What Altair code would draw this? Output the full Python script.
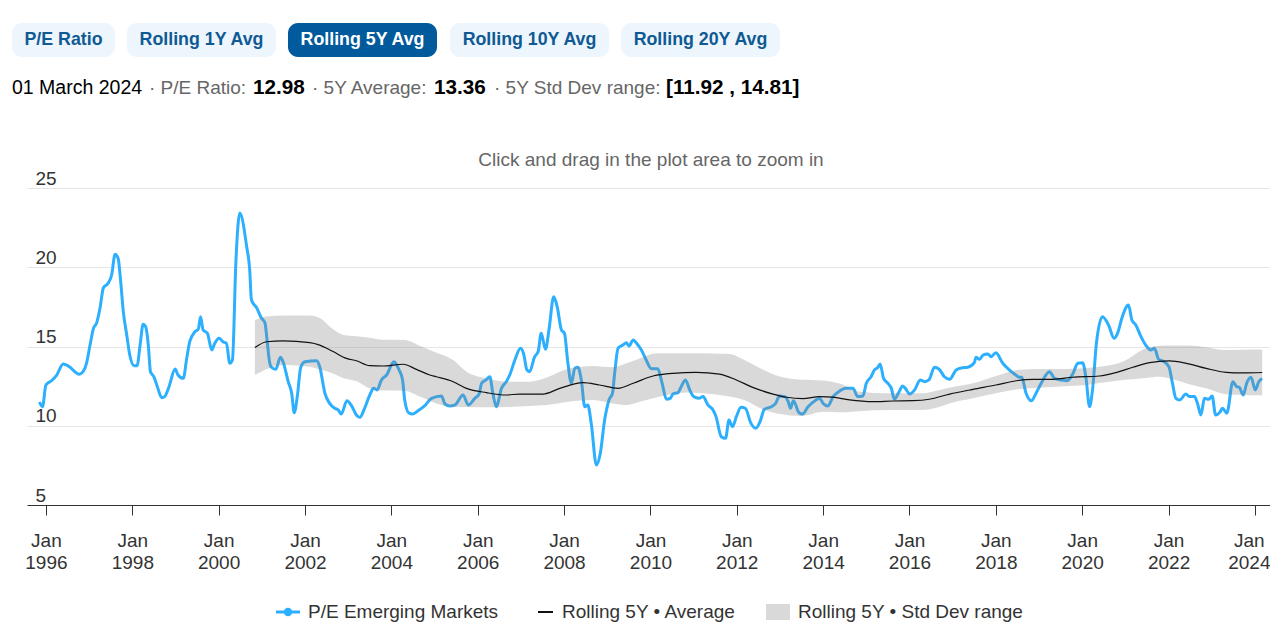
import altair as alt
import pandas as pd
import numpy as np

# ---------------- data ----------------
pe_years = [
    1995.85, 1995.92, 1996.0, 1996.13, 1996.25, 1996.4, 1996.56, 1996.67, 1996.77, 1996.86,
    1996.94, 1997.02, 1997.1, 1997.17, 1997.25, 1997.33, 1997.44, 1997.52, 1997.6, 1997.67,
    1997.73, 1997.79, 1997.87, 1997.94, 1998.04, 1998.11, 1998.18, 1998.25, 1998.31, 1998.37,
    1998.42, 1998.5, 1998.58, 1998.68, 1998.75, 1998.85, 1998.99, 1999.06, 1999.18, 1999.26,
    1999.33, 1999.45, 1999.53, 1999.58, 1999.64, 1999.74, 1999.84, 1999.91, 2000.01, 2000.1,
    2000.18, 2000.26, 2000.32, 2000.4, 2000.49, 2000.65, 2000.72, 2000.76, 2000.88, 2000.99,
    2001.07, 2001.12, 2001.17, 2001.22, 2001.32, 2001.43, 2001.49, 2001.61, 2001.69, 2001.75,
    2001.82, 2001.9, 2002.0, 2002.27, 2002.34, 2002.46, 2002.57, 2002.69, 2002.77, 2002.84,
    2002.97, 2003.08, 2003.19, 2003.27, 2003.38, 2003.5, 2003.59, 2003.67, 2003.77, 2003.89,
    2004.06, 2004.18, 2004.26, 2004.31, 2004.41, 2004.5, 2004.62, 2004.77, 2004.93, 2005.16,
    2005.24, 2005.35, 2005.47, 2005.66, 2005.78, 2005.93, 2006.03, 2006.09, 2006.19, 2006.28,
    2006.35, 2006.43, 2006.55, 2006.66, 2006.74, 2006.86, 2006.99, 2007.06, 2007.14, 2007.2,
    2007.32, 2007.4, 2007.47, 2007.57, 2007.65, 2007.76, 2007.84, 2007.94, 2008.01, 2008.09,
    2008.17, 2008.25, 2008.32, 2008.4, 2008.48, 2008.55, 2008.63, 2008.75, 2008.84, 2008.94,
    2009.04, 2009.12, 2009.17, 2009.25, 2009.36, 2009.44, 2009.5, 2009.6, 2009.69, 2009.79,
    2009.9, 2010.02, 2010.17, 2010.27, 2010.37, 2010.46, 2010.52, 2010.64, 2010.71, 2010.81,
    2010.91, 2011.0, 2011.12, 2011.22, 2011.33, 2011.45, 2011.52, 2011.64, 2011.74, 2011.82,
    2011.9, 2011.99, 2012.1, 2012.2, 2012.33, 2012.44, 2012.54, 2012.64, 2012.8, 2012.9,
    2012.99, 2013.11, 2013.19, 2013.24, 2013.31, 2013.44, 2013.52, 2013.65, 2013.81, 2013.92,
    2014.0, 2014.11, 2014.23, 2014.36, 2014.53, 2014.69, 2014.8, 2014.92, 2015.0, 2015.11,
    2015.19, 2015.27, 2015.32, 2015.4, 2015.5, 2015.58, 2015.65, 2015.75, 2015.84, 2015.92,
    2016.0, 2016.12, 2016.25, 2016.35, 2016.45, 2016.58, 2016.69, 2016.81, 2016.93, 2017.08,
    2017.23, 2017.35, 2017.5, 2017.54, 2017.62, 2017.7, 2017.81, 2017.89, 2018.0, 2018.16,
    2018.31, 2018.43, 2018.55, 2018.6, 2018.7, 2018.82, 2018.93, 2019.07, 2019.24, 2019.36,
    2019.51, 2019.65, 2019.78, 2019.9, 2020.01, 2020.09, 2020.17, 2020.24, 2020.33, 2020.47,
    2020.61, 2020.74, 2020.82, 2020.93, 2021.07, 2021.15, 2021.24, 2021.36, 2021.47, 2021.59,
    2021.67, 2021.77, 2021.9, 2022.01, 2022.09, 2022.17, 2022.26, 2022.4, 2022.48, 2022.6,
    2022.67, 2022.75, 2022.83, 2022.93, 2023.01, 2023.09, 2023.18, 2023.25, 2023.35, 2023.49,
    2023.58, 2023.64, 2023.73, 2023.81, 2023.91, 2024.01, 2024.09, 2024.17,
]
pe_values = [
    11.5, 11.2, 12.57, 12.84, 13.2, 13.9, 13.69, 13.41, 13.25, 13.41,
    13.94, 15.09, 16.15, 16.46, 17.41, 18.71, 18.99, 19.51, 20.82, 20.56,
    19.09, 17.2, 15.73, 14.46, 13.79, 13.79, 15.09, 16.4, 16.25, 15.09,
    13.41, 13.09, 12.46, 11.77, 11.84, 12.46, 13.58, 13.2, 12.99, 14.25,
    15.3, 15.93, 16.1, 16.88, 16.04, 15.83, 14.78, 15.2, 15.52, 15.3,
    15.2, 13.94, 14.15, 20.35, 23.42, 21.3, 19.83, 17.93, 17.45, 16.8,
    16.5, 15.41, 14.15, 13.69, 13.56, 14.32, 14.04, 12.78, 12.05, 10.82,
    11.84, 13.69, 14.04, 14.1, 13.72, 12.05, 11.41, 11.1, 10.99, 10.74,
    11.58, 11.25, 10.68, 10.53, 11.1, 11.94, 12.36, 12.26, 12.89, 13.2,
    14.04, 13.52, 12.89, 11.63, 10.79, 10.74, 10.95, 11.25, 11.73, 11.88,
    11.37, 11.25, 11.31, 11.94, 11.31, 11.73, 12.0, 12.68, 12.89, 13.09,
    12.05, 11.2, 12.36, 12.78, 13.2, 14.15, 14.89, 14.57, 13.52, 13.41,
    14.36, 14.68, 15.83, 14.82, 16.04, 18.14, 17.51, 16.04, 15.83, 13.94,
    12.68, 13.62, 13.69, 12.89, 11.2, 11.31, 10.15, 7.52, 8.26, 10.36,
    11.63, 12.05, 13.31, 14.89, 15.09, 15.24, 15.03, 15.41, 15.16, 14.78,
    14.15, 13.6, 13.6, 12.68, 11.67, 11.73, 12.0, 12.09, 12.46, 12.89,
    12.26, 11.84, 11.73, 11.84, 11.31, 10.99, 10.57, 9.31, 9.21, 10.36,
    9.94, 10.57, 11.16, 11.1, 10.15, 9.84, 10.26, 11.04, 11.2, 11.41,
    11.88, 11.84, 11.52, 11.1, 11.58, 10.82, 10.74, 11.2, 11.58, 11.73,
    11.41, 11.25, 11.84, 12.15, 12.36, 12.36, 11.84, 11.88, 12.68, 13.09,
    13.52, 13.69, 13.9, 12.99, 12.68, 12.36, 11.67, 12.09, 12.51, 12.3,
    12.0, 12.26, 12.89, 12.78, 12.89, 13.69, 13.56, 13.09, 12.93, 13.52,
    13.66, 13.69, 13.98, 14.32, 14.19, 14.46, 14.53, 14.36, 14.61, 13.94,
    13.52, 13.26, 13.06, 13.06, 12.05, 11.58, 12.05, 12.78, 13.41, 12.99,
    12.89, 12.84, 13.26, 13.94, 13.98, 12.99, 11.2, 12.26, 15.2, 16.88,
    16.36, 15.52, 15.83, 16.88, 17.62, 16.67, 16.36, 15.62, 15.09, 14.78,
    14.89, 14.19, 14.04, 13.72, 12.68, 11.73, 11.63, 12.0, 11.84, 11.84,
    11.41, 10.68, 11.73, 11.67, 11.88, 10.68, 10.82, 11.1, 10.79, 12.78,
    12.46, 12.42, 11.94, 12.68, 13.06, 12.26, 12.78, 12.98,
]

avg_years = [
    2000.84, 2001.11, 2001.49, 2002.11, 2002.34, 2002.65, 2002.96, 2003.19, 2003.5, 2003.81,
    2004.27, 2004.58, 2004.89, 2005.04, 2005.43, 2005.74, 2006.2, 2006.66, 2006.97, 2007.51,
    2007.9, 2008.44, 2008.82, 2009.25, 2009.6, 2010.06, 2010.52, 2011.06, 2011.6, 2011.99,
    2012.37, 2012.84, 2013.15, 2013.53, 2013.92, 2014.22, 2014.61, 2015.15, 2015.61, 2016.08,
    2016.46, 2016.93, 2017.47, 2018.0, 2018.47, 2018.85, 2019.32, 2019.78, 2020.4, 2020.78,
    2021.17, 2021.56, 2022.02, 2022.41, 2022.87, 2023.33, 2023.72, 2024.17,
]
avg_values = [
    14.93, 15.3, 15.35, 15.25, 15.09, 14.68, 14.25, 14.1, 13.79, 13.77,
    13.88, 13.56, 13.2, 13.09, 12.78, 12.36, 12.09, 11.94, 12.0, 12.0,
    12.36, 12.72, 12.57, 12.36, 12.68, 13.14, 13.31, 13.37, 13.26, 12.89,
    12.42, 12.0, 11.8, 11.71, 11.84, 11.8, 11.63, 11.52, 11.56, 11.58,
    11.67, 12.0, 12.3, 12.57, 12.84, 12.93, 12.93, 13.06, 13.14, 13.35,
    13.69, 13.98, 14.09, 13.94, 13.62, 13.37, 13.33, 13.36,
]

band_years = [
    2000.84, 2001.1, 2001.5, 2002.1, 2002.35, 2002.6, 2002.9, 2003.2, 2003.5, 2003.8,
    2004.3, 2004.66, 2005.04, 2005.43, 2005.74, 2006.2, 2006.66, 2007.2, 2007.6, 2008.1,
    2008.67, 2009.13, 2009.44, 2009.75, 2010.15, 2010.83, 2011.6, 2011.83, 2012.2, 2012.6,
    2013.0, 2013.5, 2014.0, 2014.4, 2014.84, 2015.5, 2016.3, 2016.7, 2016.93, 2017.47,
    2018.08, 2018.5, 2019.0, 2019.4, 2019.8, 2020.1, 2020.4, 2020.94, 2021.48, 2021.8,
    2022.1, 2022.5, 2022.87, 2023.3, 2023.7, 2024.17,
]
band_high = [
    16.67, 16.9, 16.95, 16.95, 16.78, 16.2, 15.72, 15.64, 15.55, 15.42,
    15.41, 15.05, 14.61, 14.15, 13.41, 12.99, 12.78, 12.78, 13.05, 13.6,
    13.77, 13.69, 13.94, 14.25, 14.57, 14.57, 14.55, 14.53, 14.12, 13.55,
    13.1, 12.9, 12.86, 12.65, 12.15, 12.05, 12.05, 12.26, 12.4, 12.68,
    13.2, 13.52, 13.58, 13.58, 13.6, 13.65, 13.72, 14.04, 14.89, 15.05,
    15.06, 15.06, 14.95, 14.78, 14.8, 14.81,
]
band_low = [
    13.2, 13.56, 13.83, 13.72, 13.55, 13.35, 13.0, 12.8, 12.35, 12.22,
    12.21, 11.84, 11.41, 11.2, 11.18, 11.16, 11.18, 11.25, 11.31, 11.52,
    11.63, 11.41, 11.31, 11.52, 11.8, 12.09, 11.94, 11.85, 11.6, 11.04,
    10.74, 10.62, 10.89, 10.85, 10.92, 10.99, 10.99, 11.2, 11.41, 11.73,
    12.09, 12.3, 12.4, 12.46, 12.52, 12.57, 12.7, 12.89, 13.02, 13.09,
    12.93, 12.6, 12.36, 12.0, 11.94, 11.92,
]

year_ticks = list(range(1996, 2025, 2))
y_ticks = [5, 10, 15, 20, 25]

button_labels = ["P/E Ratio", "Rolling 1Y Avg", "Rolling 5Y Avg", "Rolling 10Y Avg", "Rolling 20Y Avg"]
active_button = "Rolling 5Y Avg"

info_parts = [
    ("01 March 2024", "plain"),
    ("· P/E Ratio:", "label"),
    ("12.98", "value"),
    ("· 5Y Average:", "label"),
    ("13.36", "value"),
    ("· 5Y Std Dev range:", "label"),
    ("[11.92 , 14.81]", "value"),
]
chart_note = "Click and drag in the plot area to zoom in"
legend_labels = ["P/E Emerging Markets", "Rolling 5Y • Average", "Rolling 5Y • Std Dev range"]


def to_dates(years):
    out = []
    for y in years:
        yi = int(np.floor(y))
        out.append(pd.Timestamp(year=yi, month=1, day=1) + pd.Timedelta(days=(y - yi) * 365.25))
    return out


pe_df = pd.DataFrame({"date": to_dates(pe_years), "pe": pe_values})
avg_df = pd.DataFrame({"date": to_dates(avg_years), "avg": avg_values})
band_df = pd.DataFrame({"date": to_dates(band_years), "lo": band_low, "hi": band_high})

# ---------------- styling / layout ----------------
FONT = "Liberation Sans"
BLUE = "#2caffe"
W, H = 1243, 317
OX, OY = 27, 188  # page position of the plot origin

x_scale = alt.Scale(domain=[alt.DateTime(year=1995, month=7, date=25),
                            alt.DateTime(year=2024, month=5, date=8)])
y_scale = alt.Scale(domain=[5, 25], nice=False, zero=False)

x_axis = alt.Axis(
    values=[alt.DateTime(year=y, month=1, date=1) for y in year_ticks],
    labelExpr="['Jan', timeFormat(datum.value, '%Y')]",
    labelOffset={"condition": {"test": "year(datum.value) >= 2024", "value": -6}, "value": 0},
    grid=False, title=None, domainColor="#333333", domainWidth=1,
    tickColor="#333333", tickSize=10, tickWidth=1,
    labelFont=FONT, labelFontSize=19, labelColor="#333333",
    labelPadding=16, labelLineHeight=22, labelFlush=False, labelOverlap=False,
)
y_axis = alt.Axis(
    values=y_ticks, grid=True, gridColor="#e6e6e6", gridWidth=1,
    domain=False, ticks=False, title=None,
    labelAlign="left", labelPadding=-8, labelBaseline="alphabetic", labelOffset=-4,
    labelFont=FONT, labelFontSize=19, labelColor="#333333",
)

pe_line = alt.Chart(pe_df).mark_line(color=BLUE, strokeWidth=3, interpolate="monotone").encode(
    x=alt.X("date:T", scale=x_scale, axis=x_axis),
    y=alt.Y("pe:Q", scale=y_scale, axis=y_axis),
)
band = alt.Chart(band_df).mark_area(color="#808080", opacity=0.3, interpolate="monotone").encode(
    x=alt.X("date:T", scale=x_scale),
    y=alt.Y("lo:Q", scale=y_scale),
    y2="hi:Q",
)
avg_line = alt.Chart(avg_df).mark_line(color="#111111", strokeWidth=1.2, interpolate="monotone").encode(
    x=alt.X("date:T", scale=x_scale),
    y=alt.Y("avg:Q", scale=y_scale),
)

layers = [pe_line, band, avg_line]


def one(text):
    return pd.DataFrame({"t": [text]})


# buttons (page coords -> plot coords)
btn_x = [(12, 115), (127, 276), (288, 437), (450, 609), (621, 780)]
for lab, (x0, x1) in zip(button_labels, btn_x):
    active = lab == active_button
    layers.append(
        alt.Chart(one(lab)).mark_rect(cornerRadius=10, color="#005a9c" if active else "#edf5fd").encode(
            x=alt.value(x0 - OX), x2=alt.value(x1 - OX), y=alt.value(23 - OY), y2=alt.value(57 - OY)
        )
    )
    layers.append(
        alt.Chart(one(lab)).mark_text(font=FONT, fontSize=17.8, fontWeight="bold",
                                      color="#ffffff" if active else "#0f5a93",
                                      align="center", baseline="middle").encode(
            x=alt.value((x0 + x1) / 2 - OX), y=alt.value(40 - OY), text="t:N"
        )
    )

# info line
info_x = [12, 149, 253, 312, 434, 494, 666]
info_size = {"plain": 19.5, "label": 19, "value": 20.7}
for (txt, kind), xs in zip(info_parts, info_x):
    color = "#666666" if kind == "label" else "#000000"
    weight = "bold" if kind == "value" else "normal"
    layers.append(
        alt.Chart(one(txt)).mark_text(font=FONT, fontSize=info_size[kind], fontWeight=weight, color=color,
                                      align="left", baseline="middle").encode(
            x=alt.value(xs - OX), y=alt.value(88 - OY), text="t:N"
        )
    )

# plot note
layers.append(
    alt.Chart(one(chart_note)).mark_text(font=FONT, fontSize=19, color="#666666",
                                         align="center", baseline="middle").encode(
        x=alt.value(651 - OX), y=alt.value(160 - OY), text="t:N"
    )
)

# legend
LY = 612 - OY
layers.append(alt.Chart(one("a")).mark_rule(color=BLUE, strokeWidth=3).encode(
    x=alt.value(276 - OX), x2=alt.value(300 - OX), y=alt.value(LY)))
layers.append(alt.Chart(one("a")).mark_point(shape="circle", filled=True, opacity=1, color=BLUE, size=70).encode(
    x=alt.value(288 - OX), y=alt.value(LY)))
layers.append(alt.Chart(one("b")).mark_rule(color="#111111", strokeWidth=2).encode(
    x=alt.value(538 - OX), x2=alt.value(553 - OX), y=alt.value(LY)))
layers.append(alt.Chart(one("c")).mark_rect(color="#d9d9d9").encode(
    x=alt.value(766 - OX), x2=alt.value(790 - OX), y=alt.value(LY - 8), y2=alt.value(LY + 8)))
for txt, xs in zip(legend_labels, [308, 562, 798]):
    layers.append(
        alt.Chart(one(txt)).mark_text(font=FONT, fontSize=19, color="#333333",
                                      align="left", baseline="middle").encode(
            x=alt.value(xs - OX), y=alt.value(LY), text="t:N"
        )
    )

chart = alt.layer(*layers).properties(
    width=W, height=H,
    autosize=alt.AutoSizeParams(type="none"),
    padding={"left": OX - 8, "top": OY - 8, "right": 0, "bottom": 118},
).configure_view(stroke=None)

chart.save("out.html", embed_options={"renderer": "svg", "actions": False})
